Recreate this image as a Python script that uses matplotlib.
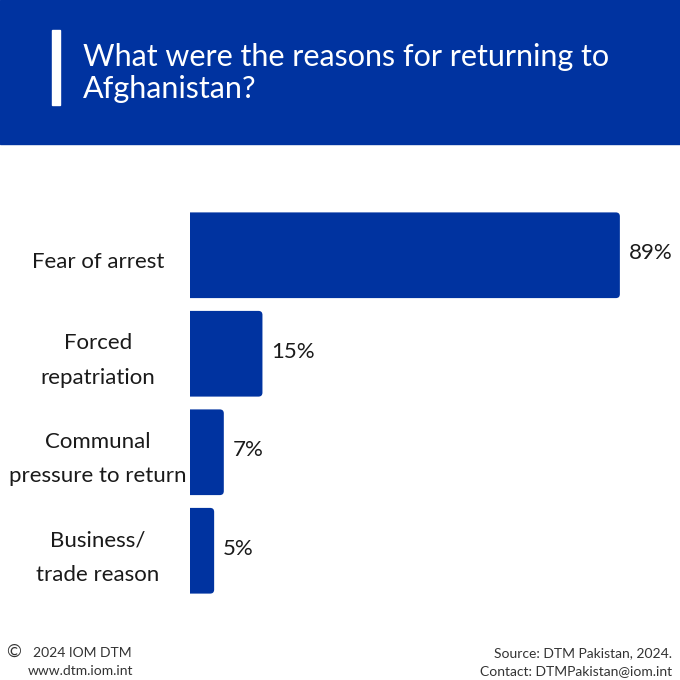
import matplotlib
matplotlib.use('Agg')
import matplotlib.pyplot as plt
from matplotlib.patches import Rectangle, FancyBboxPatch

plt.rcParams['font.family'] = ['Lato', 'DejaVu Sans']

categories = ['Fear of arrest', 'Forced\nrepatriation', 'Communal\npressure to return', 'Business/\ntrade reason']
values = [89, 15, 7, 5]
labels = ['89%', '15%', '7%', '5%']

title = 'What were the reasons for returning to\nAfghanistan?'
blue = '#0033A0'
ink = '#1a1a1a'

fig = plt.figure(figsize=(6.8, 6.8), dpi=100)
W, H = 680, 680

# header band
fig.patches.append(Rectangle((0, 1 - 144 / H), 1, 144 / H, transform=fig.transFigure,
                             color=blue, zorder=0))
fig.patches.append(Rectangle((52 / W, 1 - 105 / H), 8 / W, 75 / H, transform=fig.transFigure,
                             color='white', zorder=1))
fig.text(83 / W, 1 - 73 / H, title, color='white', fontsize=22,
         va='center', ha='left', linespacing=1.2)

# bar area: value 0 at x=190px, 100 at 673px
ax = fig.add_axes([190 / W, 1 - 600 / H, 483 / W, (600 - 206) / H])
ax.set_xlim(0, 100)
ax.set_ylim(3.5, -0.5)
ax.axis('off')

bars = ax.barh(range(len(values)), values, height=0.87, color=blue)
# rounded right ends
px_x = 483 / 100  # px per x unit
px_y = (600 - 206) / 4  # px per y unit
r = 4 / px_x
for b in bars:
    x0, y0, w, h = b.get_x(), b.get_y(), b.get_width(), b.get_height()
    b.set_visible(False)
    # start left of 0 so the left rounding is clipped away
    ax.add_patch(FancyBboxPatch((x0 - 2 * r, y0), w + 2 * r, h,
                                boxstyle=f'round,pad=0,rounding_size={r}',
                                mutation_aspect=px_x / px_y, color=blue, lw=0))

for i, (v, lab) in enumerate(zip(values, labels)):
    ax.text(v + 9 / px_x, i - 0.02, lab, va='center', ha='left', fontsize=16, color=ink)
    ax.text(-92 / px_x, i + 0.07, categories[i], va='center', ha='center', fontsize=16,
            color=ink, linespacing=1.9)

# footer
fig.text(6 / W, 1 - 652 / H, '©', fontsize=13, color='#333333', va='center', ha='left')
fig.text(33 / W, 1 - 653 / H, '2024 IOM DTM', fontsize=10, color='#333333', va='center',
         ha='left')
fig.text(28 / W, 1 - 671 / H, 'www.dtm.iom.int', fontsize=10, color='#333333', va='center',
         ha='left')
fig.text(672 / W, 1 - 653 / H, 'Source: DTM Pakistan, 2024.', fontsize=10, color='#333333',
         va='center', ha='right')
fig.text(672 / W, 1 - 671 / H, 'Contact: DTMPakistan@iom.int', fontsize=10, color='#333333',
         va='center', ha='right')

fig.savefig('out.png', dpi=100)
